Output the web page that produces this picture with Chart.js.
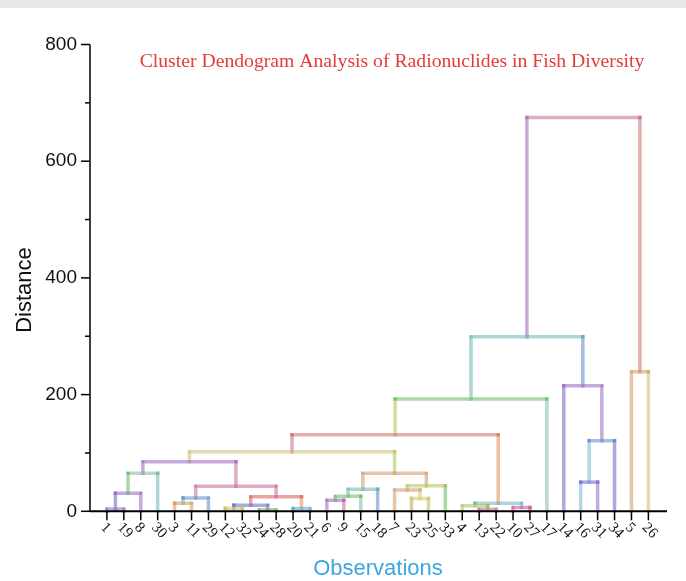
<!DOCTYPE html>
<html>
<head>
<meta charset="UTF-8">
<title>Cluster Dendogram</title>
<script src="https://cdn.jsdelivr.net/npm/chart.js"></script>
<style>
  body { margin: 0; background: #fff; }
  #wrap { width: 686px; height: 581px; }
</style>
</head>
<body>
<div id="wrap"><canvas id="dendro" width="686" height="581"></canvas></div>
<script>
// leaves, left to right (leaf id = position 0..32)
const leafLabels = ['1','19','8','30','3','11','29','12','32','24','28','20','21','6','9','15','18',
                    '7','23','25','33','4','13','22','10','27','17','14','16','31','34','5','26'];

// linkage: every merge gets the next id (33, 34, ...)
const mergeLeft   = [0, 33, 34, 4, 36, 7, 9, 38, 11, 40, 37, 35, 13, 45, 46, 18, 17, 49, 47, 44, 22, 21, 24, 54, 52, 57, 28, 59, 27, 58, 31, 62];
const mergeRight  = [1, 2, 3, 5, 6, 8, 10, 39, 12, 41, 42, 43, 14, 15, 16, 19, 48, 20, 50, 51, 23, 53, 25, 55, 56, 26, 29, 30, 60, 61, 32, 63];
const mergeHeight = [4, 31, 65, 13.7, 23, 5, 2.5, 10.5, 5, 25, 43, 85, 19, 26, 38, 22, 36.5, 44, 65, 102,
                     3.4, 9.6, 6.5, 13.7, 131, 192.5, 50, 121, 215, 299, 239, 675];

const yTicks = [0, 200, 400, 600, 800];
const yMinorTicks = [100, 300, 500, 700];

// colours
const C = {
  purple: 'rgba(150,100,190,0.55)', bluePurple: 'rgba(100,100,200,0.55)', blue: 'rgba(90,140,200,0.55)',
  lightBlue: 'rgba(120,180,210,0.55)', teal: 'rgba(90,175,170,0.5)', tealGreen: 'rgba(110,180,150,0.5)',
  cyan: 'rgba(80,170,210,0.55)', green: 'rgba(100,185,90,0.55)', yellowGreen: 'rgba(170,195,90,0.55)',
  khaki: 'rgba(200,190,110,0.55)', yellow: 'rgba(210,200,90,0.55)', tan: 'rgba(205,150,100,0.55)',
  orange: 'rgba(225,140,80,0.55)', salmon: 'rgba(205,110,100,0.55)', red: 'rgba(215,90,90,0.55)',
  pink: 'rgba(200,100,150,0.55)', magenta: 'rgba(200,80,160,0.55)'
};
// colour of the vertical leg above each node
const legColor = [
  'purple','purple','purple','teal','orange','tan','blue','orange','yellow','green','green','teal','cyan',
  'purple','pink','tealGreen','blue','tan','tan','yellowGreen','green','yellowGreen','pink','pink','magenta',
  'red','tealGreen','bluePurple','lightBlue','purple','bluePurple','tan','khaki',
  // merges 33..63
  'bluePurple','green','purple','teal','pink','blue','bluePurple','red','orange','pink','pink','khaki',
  'green','teal','tan','yellow','yellowGreen','tan','yellowGreen','pink','green','tealGreen','teal','orange',
  'yellowGreen','teal','lightBlue','purple','blue','purple','salmon'
].map(k => C[k]);
// colour of each horizontal bar
const barColor = [
  'purple','purple','tealGreen','tan','blue','khaki','green','bluePurple','cyan','red','pink','purple',
  'purple','green','teal','yellow','tan','yellowGreen','tan','khaki','pink','yellowGreen','magenta','teal',
  'salmon','green','bluePurple','blue','purple','teal','tan','pink'
].map(k => C[k]);

const nLeaves = leafLabels.length;
const nodeX = [], nodeH = [];
for (let i = 0; i < nLeaves; i++) { nodeX.push(i + 1); nodeH.push(0); }
mergeLeft.forEach(function (l, j) {
  const r = mergeRight[j];
  nodeX.push((nodeX[l] + nodeX[r]) / 2);
  nodeH.push(mergeHeight[j]);
});

const datasets = mergeLeft.map(function (l, j) {
  const r = mergeRight[j];
  const h = mergeHeight[j];
  const cols = [legColor[l], barColor[j], legColor[r]];
  return {
    data: [{x: nodeX[l], y: nodeH[l]}, {x: nodeX[l], y: h}, {x: nodeX[r], y: h}, {x: nodeX[r], y: nodeH[r]}],
    borderWidth: 3.5,
    borderCapStyle: 'square',
    borderColor: barColor[j],
    segment: { borderColor: ctx => cols[ctx.p0DataIndex] },
    pointRadius: [0, 1.7, 1.7, 0],
    pointBorderWidth: 0,
    pointBackgroundColor: [cols[0], cols[1], cols[1], cols[2]],
    tension: 0,
    clip: false
  };
});

const decor = {
  id: 'decor',
  beforeDraw(chart) {
    const c = chart.ctx;
    c.save();
    c.fillStyle = '#e6e7e9';
    c.fillRect(0, 0, chart.width, 8);
    c.restore();
  },
  afterDraw(chart) {
    const c = chart.ctx, xs = chart.scales.x, ys = chart.scales.y, a = chart.chartArea;
    c.save();
    c.strokeStyle = '#000';
    // y axis
    c.lineWidth = 1.5;
    c.beginPath(); c.moveTo(a.left, ys.getPixelForValue(800)); c.lineTo(a.left, ys.getPixelForValue(0)); c.stroke();
    yTicks.forEach(function (v) {
      const y = ys.getPixelForValue(v);
      c.beginPath(); c.moveTo(a.left - 9, y); c.lineTo(a.left, y); c.stroke();
    });
    yMinorTicks.forEach(function (v) {
      const y = ys.getPixelForValue(v);
      c.beginPath(); c.moveTo(a.left - 5, y); c.lineTo(a.left, y); c.stroke();
    });
    c.fillStyle = '#111';
    c.font = '19px "Liberation Sans", Arial, sans-serif';
    c.textAlign = 'right';
    c.textBaseline = 'middle';
    yTicks.forEach(function (v) { c.fillText(String(v), a.left - 13, ys.getPixelForValue(v)); });
    // x axis
    const y0 = ys.getPixelForValue(0);
    c.lineWidth = 2;
    c.beginPath(); c.moveTo(a.left, y0); c.lineTo(a.right, y0); c.stroke();
    c.lineWidth = 1.5;
    c.font = '15px "Liberation Serif", "Times New Roman", serif';
    c.textAlign = 'left';
    leafLabels.forEach(function (lab, i) {
      const x = xs.getPixelForValue(i + 1);
      c.beginPath(); c.moveTo(x, y0); c.lineTo(x, y0 + 9); c.stroke();
      c.save();
      c.translate(x - 4, y0 + 14);
      c.rotate(Math.PI / 4);
      c.fillText(lab, 0, 0);
      c.restore();
    });
    // titles
    c.fillStyle = '#e43b3b';
    c.font = '19.7px "Liberation Serif", "Times New Roman", serif';
    c.textAlign = 'center';
    c.textBaseline = 'alphabetic';
    c.fillText('Cluster Dendogram Analysis of Radionuclides in Fish Diversity', 392, 67);
    c.fillStyle = '#3ea6de';
    c.font = '22px "Liberation Sans", Arial, sans-serif';
    c.textBaseline = 'middle';
    c.fillText('Observations', 378, 569);
    c.fillStyle = '#111';
    c.translate(25, 290);
    c.rotate(-Math.PI / 2);
    c.fillText('Distance', 0, 0);
    c.restore();
  }
};

new Chart(document.getElementById('dendro').getContext('2d'), {
  type: 'line',
  data: { datasets: datasets },
  options: {
    responsive: false,
    animation: false,
    parsing: false,
    layout: { padding: { left: 90, right: 19, top: 44.5, bottom: 69.7 } },
    plugins: { legend: { display: false }, tooltip: { enabled: false } },
    scales: {
      x: { type: 'linear', min: 0, max: 34.1, display: false },
      y: { type: 'linear', min: 0, max: 800, display: false }
    }
  },
  plugins: [decor]
});
</script>
</body>
</html>
